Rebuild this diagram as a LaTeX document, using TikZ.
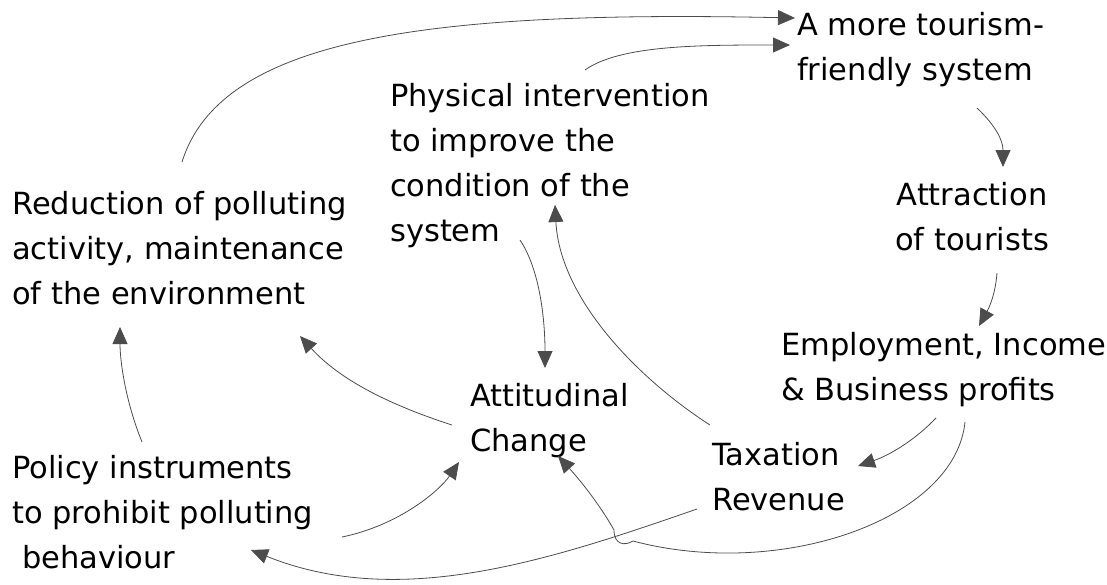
\documentclass[tikz,border=0pt]{standalone}
\usepackage{fontspec}
\setmainfont{DejaVu Sans}
\usetikzlibrary{arrows.meta}

\begin{document}
\begin{tikzpicture}[x=1pt,y=-1pt,
    label/.style={anchor=west,align=left,inner sep=0pt,font=\fontsize{30.5}{45}\selectfont},
    link/.style={draw=black!70,line width=0.8pt,-{Triangle[length=17pt,width=15pt]}}]
    \useasboundingbox (0,0) rectangle (1107,584);

    % Place the texts
    \node[label] (tour) at (797,50) {A more tourism-\\friendly system};
    \node[label] (phys) at (390,166) {Physical intervention\\to improve the\\condition of the\\system};
    \node[label] (redu) at (12,248) {Reduction of polluting\\activity, maintenance\\of the environment};
    \node[label,anchor=center,align=center] (attr) at (972,217) {Attraction\\of tourists};
    \node[label] (empl) at (781,370) {Employment, Income\\\& Business profits};
    \node[label] (atti) at (470,421) {Attitudinal\\Change};
    \node[label] (taxa) at (712,477) {Taxation\\Revenue};
    \node[label] (poli) at (12,512) {Policy instruments\\to prohibit polluting\\\hspace{10pt}behaviour};

    % Define the ends of the links
    \coordinate (redu-out) at (182,162);
    \coordinate (tour-in1) at (795,18);
    \coordinate (phys-out) at (585,70);
    \coordinate (tour-in2) at (790,45);
    \coordinate (tour-out) at (977,108);
    \coordinate (attr-in) at (1003,167);
    \coordinate (attr-out) at (997,273);
    \coordinate (empl-in) at (979,326);
    \coordinate (empl-out1) at (936,418);
    \coordinate (taxa-in) at (858,466);
    \coordinate (empl-out2) at (965,422);
    \coordinate (hop-a) at (633,541);
    \coordinate (hop-b) at (614,530);
    \coordinate (atti-in2) at (558,456);
    \coordinate (taxa-out1) at (710,425);
    \coordinate (phys-in) at (555,205);
    \coordinate (phys-out2) at (520,240);
    \coordinate (atti-in1) at (545,368);
    \coordinate (atti-out) at (452,425);
    \coordinate (redu-in1) at (300,336);
    \coordinate (poli-out1) at (142,442);
    \coordinate (redu-in2) at (120,327);
    \coordinate (poli-out2) at (342,537);
    \coordinate (atti-in3) at (459,462);
    \coordinate (taxa-out2) at (697,509);
    \coordinate (poli-in) at (251,550);

    % Draw the links
    \draw[link] (redu-out) .. controls (220,40) and (420,10) .. (tour-in1);
    \draw[link] (phys-out) .. controls (620,45) and (700,45) .. (tour-in2);
    \draw[link] (tour-out) .. controls (995,125) and (1003,140) .. (attr-in);
    \draw[link] (attr-out) .. controls (995,300) and (985,315) .. (empl-in);
    \draw[link] (empl-out1) .. controls (915,440) and (890,455) .. (taxa-in);
    \draw[link] (empl-out2) .. controls (955,520) and (780,580) .. (hop-a)
        .. controls (625,546) and (614,545) .. (hop-b)
        .. controls (600,505) and (580,480) .. (atti-in2);
    \draw[link] (taxa-out1) .. controls (640,380) and (560,300) .. (phys-in);
    \draw[link] (phys-out2) .. controls (540,270) and (545,320) .. (atti-in1);
    \draw[link] (atti-out) .. controls (390,405) and (340,380) .. (redu-in1);
    \draw[link] (poli-out1) .. controls (125,400) and (120,360) .. (redu-in2);
    \draw[link] (poli-out2) .. controls (400,525) and (440,490) .. (atti-in3);
    \draw[link] (taxa-out2) .. controls (550,560) and (400,610) .. (poli-in);

\end{tikzpicture}
\end{document}
